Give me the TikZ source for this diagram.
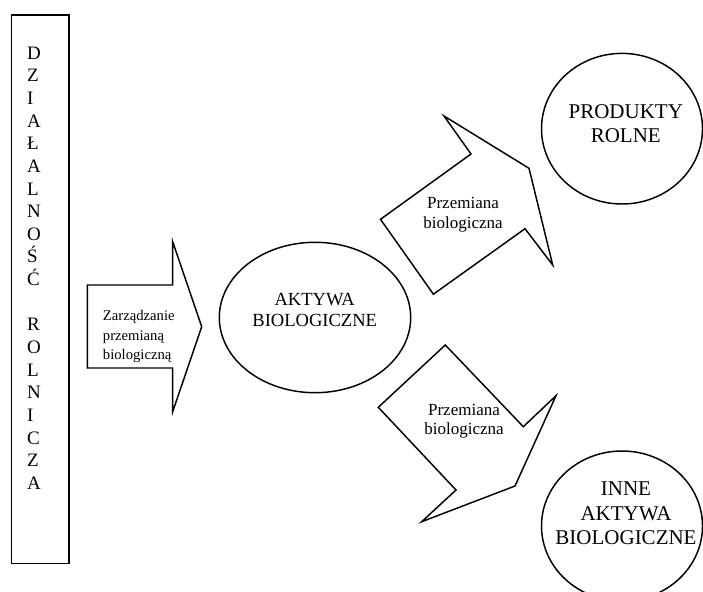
\documentclass[tikz,border=0pt]{standalone}
\usepackage{fontspec}
\setmainfont{Liberation Serif}
\usetikzlibrary{shapes.geometric}
\begin{document}
\begin{tikzpicture}[x=0.75pt,y=-0.75pt,
  outline/.style={draw=black, line width=1.1pt, line join=miter},
  oval/.style={ellipse, draw=black, line width=1.1pt, inner sep=0pt},
  barletter/.style={font=\fontsize{14.25pt}{17pt}\selectfont, inner sep=0pt, anchor=base west},
  smalltext/.style={font=\fontsize{11pt}{14.5pt}\selectfont, inner sep=0pt, align=left},
  midtext/.style={font=\fontsize{12.75pt}{14.6pt}\selectfont, inner sep=0pt, align=center},
  aktext/.style={font=\fontsize{13.9pt}{15.6pt}\selectfont, inner sep=0pt, align=center},
  bigtext/.style={font=\fontsize{15.75pt}{18.3pt}\selectfont, inner sep=0pt, align=center}]
\useasboundingbox (0,0) rectangle (703,592);
\fill[white] (0,0) rectangle (703,592);

% left bar
\node[outline, rectangle, inner sep=0pt, minimum width=42.975pt, minimum height=411.2pt] (bar) at (40.35,289.15) {};
\foreach \l [count=\i] in {D,Z,I,A,Ł,A,L,N,O,Ś,Ć}
  \node[barletter] (la\i) at (26.8,{59.3+(\i-1)*22.63}) {\l};
\foreach \l [count=\i] in {R,O,L,N,I,C,Z,A}
  \node[barletter] (lb\i) at (26.8,{330.9+(\i-1)*22.63}) {\l};

% block arrow 1
\draw[outline] (87.3,285) -- (172.7,285) -- (172.7,241.7) -- (201.7,326.7)
  -- (172.7,411.7) -- (172.7,368) -- (87.3,368) -- cycle;
\node[smalltext, anchor=west] (t1) at (102.7,336.6) {Zarządzanie\\przemianą\\biologiczną};

% central ellipse
\node[oval, minimum width=143.55pt, minimum height=112.8pt] (ak) at (315,317.5) {};
\node[aktext] (akt) at (314.7,309.8) {AKTYWA\\BIOLOGICZNE};

% upper block arrow
\draw[outline] (380.5,219.3) -- (471,154) -- (444,116) -- (529,168.3)
  -- (552.7,265) -- (525,228.7) -- (433.4,294.2) -- cycle;
\node[midtext] (t2) at (463,214.7) {Przemiana\\biologiczna};

% lower block arrow
\draw[outline] (445.3,345) -- (378.3,407.3) -- (456,490) -- (421.7,521.7)
  -- (515,486) -- (556,395.7) -- (523.3,426.7) -- cycle;
\node[midtext] (t3) at (464,421.4) {Przemiana\\biologiczna};

% right ellipses
\node[oval, minimum width=120.75pt, minimum height=112.95pt] (pr) at (622,128.7) {};
\node[bigtext] (prt) at (625.8,123.8) {PRODUKTY\\ROLNE};

\node[oval, minimum width=120.75pt, minimum height=112.5pt] (in) at (622,526) {};
\node[bigtext] (int) at (626,513.4) {INNE\\AKTYWA\\BIOLOGICZNE};
\end{tikzpicture}
\end{document}
